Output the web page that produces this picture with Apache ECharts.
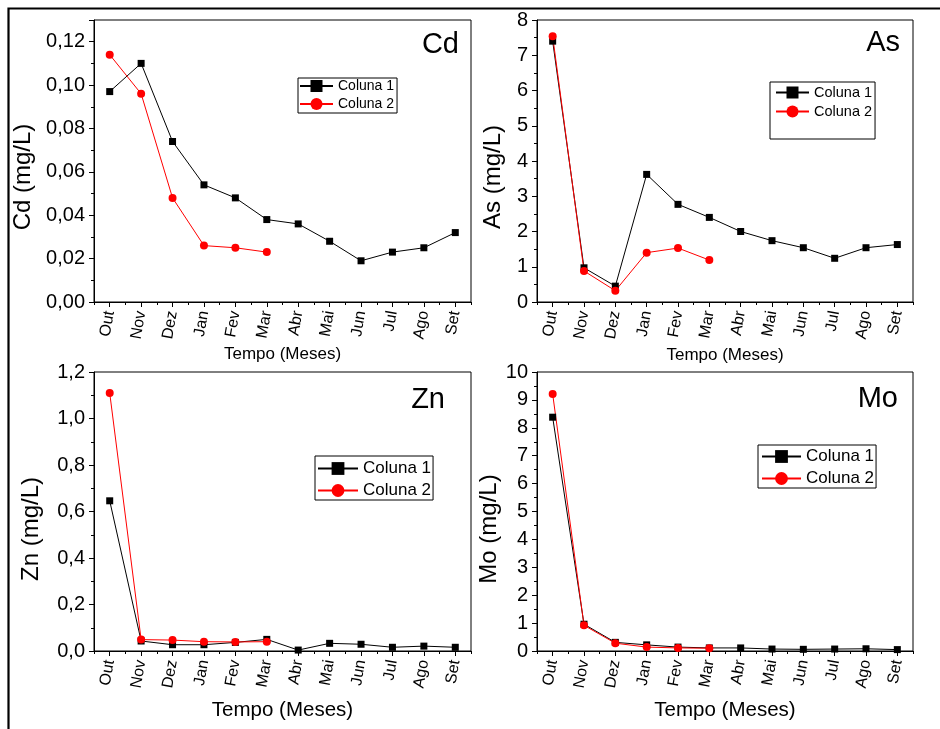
<!DOCTYPE html>
<html>
<head>
<meta charset="utf-8">
<script src="https://cdn.jsdelivr.net/npm/echarts@6/dist/echarts.min.js"></script>
<style>
    html, body { margin: 0; padding: 0; background: #fff; }
    #chart { width: 940px; height: 729px; }
</style>
</head>
<body>
<div id="chart"></div>
<script>
    // meses de coleta
    const meses = ['Out', 'Nov', 'Dez', 'Jan', 'Fev', 'Mar', 'Abr', 'Mai', 'Jun', 'Jul', 'Ago', 'Set'];

    // Cd (mg/L)
    const cdColuna1 = [0.097, 0.110, 0.074, 0.054, 0.048, 0.038, 0.036, 0.028, 0.019, 0.023, 0.025, 0.032];
    const cdColuna2 = [0.114, 0.096, 0.048, 0.026, 0.025, 0.023, null, null, null, null, null, null];

    // As (mg/L)
    const asColuna1 = [7.40, 0.97, 0.45, 3.62, 2.77, 2.40, 2.00, 1.74, 1.54, 1.24, 1.54, 1.63];
    const asColuna2 = [7.54, 0.88, 0.32, 1.40, 1.53, 1.19, null, null, null, null, null, null];

    // Zn (mg/L)
    const znColuna1 = [0.646, 0.043, 0.027, 0.027, 0.037, 0.050, 0.004, 0.033, 0.029, 0.016, 0.021, 0.016];
    const znColuna2 = [1.110, 0.049, 0.047, 0.040, 0.039, 0.040, null, null, null, null, null, null];

    // Mo (mg/L)
    const moColuna1 = [8.38, 0.96, 0.31, 0.22, 0.14, 0.11, 0.11, 0.07, 0.06, 0.07, 0.08, 0.05];
    const moColuna2 = [9.21, 0.92, 0.28, 0.14, 0.11, 0.10, null, null, null, null, null, null];

    const FONT = '"Liberation Sans", Arial, sans-serif';

    const paineis = [
        {
            nome: 'Cd', c1: cdColuna1, c2: cdColuna2, max: 0.13, interval: 0.02, dec: 2,
            grid: { left: 94, top: 20, width: 377, height: 282 },
            yGap: 59, yPad: 32, xGap: 43.5, xFont: 17,
            rotulo: { x: 459, y: 45 },
            legenda: { left: 298, top: 78, itemWidth: 33, itemHeight: 15, itemGap: 4, padding: [1, 3, 2, 1], fontSize: 14 }
        },
        {
            nome: 'As', c1: asColuna1, c2: asColuna2, max: 8, interval: 1, dec: 0,
            grid: { left: 537, top: 20, width: 376, height: 282 },
            yGap: 32, yPad: 32, xGap: 44.5, xFont: 17,
            rotulo: { x: 900, y: 43 },
            legenda: { left: 770, top: 82, itemWidth: 33, itemHeight: 15, itemGap: 4, padding: [3, 3, 20, 5], fontSize: 14.5 }
        },
        {
            nome: 'Zn', c1: znColuna1, c2: znColuna2, max: 1.2, interval: 0.2, dec: 1,
            grid: { left: 94, top: 372, width: 377, height: 279 },
            yGap: 51, yPad: 35, xGap: 49, xFont: 20.5,
            rotulo: { x: 445, y: 400 },
            legenda: { left: 315, top: 456, itemWidth: 40, itemHeight: 16, itemGap: 5, padding: [4, 2, 1, 2], fontSize: 17 }
        },
        {
            nome: 'Mo', c1: moColuna1, c2: moColuna2, max: 10, interval: 1, dec: 0,
            grid: { left: 537, top: 372, width: 376, height: 279 },
            yGap: 30, yPad: 35, xGap: 49, xFont: 20.5,
            rotulo: { x: 898, y: 399 },
            legenda: { left: 758, top: 445, itemWidth: 39, itemHeight: 16, itemGap: 5, padding: [3, 2, 1, 3], fontSize: 17 }
        }
    ];

    const option = {
        animation: false,
        backgroundColor: '#fff',
        textStyle: { fontFamily: FONT, color: '#000' },
        grid: [],
        xAxis: [],
        yAxis: [],
        legend: [],
        series: [],
        graphic: [
            {
                type: 'polyline',
                shape: { points: [[8.5, 729], [8.5, 8.5], [940, 8.5]] },
                style: { stroke: '#000', lineWidth: 2.2, fill: null }
            }
        ]
    };

    paineis.forEach((p, i) => {
        option.grid.push(Object.assign({
            show: true,
            borderColor: '#000',
            borderWidth: 1,
            backgroundColor: 'transparent',
            outerBoundsMode: 'none',
            containLabel: false
        }, p.grid));

        // eixo principal (rótulos e marcas nos meses)
        option.xAxis.push({
            type: 'category',
            gridIndex: i,
            position: 'bottom',
            data: meses,
            boundaryGap: true,
            name: 'Tempo (Meses)',
            nameLocation: 'middle',
            nameGap: p.xGap,
            nameTextStyle: { fontSize: p.xFont, color: '#000', fontFamily: FONT },
            axisLine: { show: true, lineStyle: { color: '#000', width: 1 } },
            axisTick: { show: true, alignWithLabel: true, length: 5, lineStyle: { color: '#000' } },
            axisLabel: { rotate: 80, margin: 9, fontSize: 16, color: '#000', fontFamily: FONT, interval: 0 },
            splitLine: { show: false }
        });
        // marcas secundárias entre os meses
        option.xAxis.push({
            type: 'category',
            gridIndex: i,
            position: 'bottom',
            data: meses,
            boundaryGap: true,
            axisLine: { show: false },
            axisTick: { show: true, interval: 0, length: 3, lineStyle: { color: '#000' } },
            axisLabel: { show: false },
            splitLine: { show: false }
        });

        option.yAxis.push({
            type: 'value',
            gridIndex: i,
            min: 0,
            max: p.max,
            interval: p.interval,
            name: p.nome + ' (mg/L)',
            nameLocation: 'middle',
            nameGap: p.yGap,
            nameRotate: 90,
            nameTextStyle: { fontSize: 24, color: '#000', fontFamily: FONT, padding: [0, p.yPad, 0, 0] },
            axisLine: { show: true, lineStyle: { color: '#000', width: 1 } },
            axisTick: { show: true, length: 5, lineStyle: { color: '#000' } },
            minorTick: { show: true, splitNumber: 2, length: 3, lineStyle: { color: '#000' } },
            axisLabel: {
                margin: 9,
                fontSize: 20,
                color: '#000',
                fontFamily: FONT,
                formatter: v => v.toFixed(p.dec).replace('.', ',')
            },
            splitLine: { show: false },
            minorSplitLine: { show: false }
        });

        option.series.push({
            type: 'line',
            name: 'Coluna 1',
            xAxisIndex: i * 2,
            yAxisIndex: i,
            data: p.c1,
            symbol: 'rect',
            symbolSize: 7,
            itemStyle: { color: '#000' },
            lineStyle: { color: '#000', width: 1 },
            emphasis: { disabled: true }
        });
        option.series.push({
            type: 'line',
            name: 'Coluna 2',
            xAxisIndex: i * 2,
            yAxisIndex: i,
            data: p.c2,
            symbol: 'circle',
            symbolSize: 8,
            itemStyle: { color: '#ff0000' },
            lineStyle: { color: '#ff0000', width: 1 },
            emphasis: { disabled: true }
        });

        const lg = p.legenda;
        option.legend.push({
            orient: 'vertical',
            left: lg.left,
            top: lg.top,
            itemWidth: lg.itemWidth,
            itemHeight: lg.itemHeight,
            itemGap: lg.itemGap,
            padding: lg.padding,
            borderColor: '#000',
            borderWidth: 1,
            borderRadius: 0,
            backgroundColor: '#fff',
            selectedMode: false,
            data: ['Coluna 1', 'Coluna 2'],
            textStyle: { fontSize: lg.fontSize, color: '#000', fontFamily: FONT }
        });

        option.graphic.push({
            type: 'text',
            x: p.rotulo.x,
            y: p.rotulo.y,
            style: {
                text: p.nome,
                fontSize: 29,
                fontFamily: FONT,
                fill: '#000',
                align: 'right',
                verticalAlign: 'middle'
            }
        });
    });

    // Cd: topo em 0,13 sem rótulo
    option.yAxis[0].axisLabel.showMaxLabel = false;

    const myChart = echarts.init(document.getElementById('chart'), null, { renderer: 'canvas' });
    myChart.setOption(option);
</script>
</body>
</html>
